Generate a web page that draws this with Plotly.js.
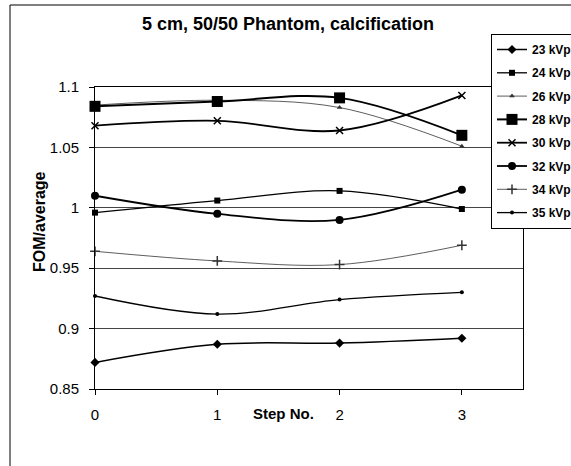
<!DOCTYPE html>
<html>
<head>
<meta charset="utf-8">
<script src="https://cdn.plot.ly/plotly-3.0.1.min.js"></script>
<style>
  html, body { margin: 0; padding: 0; background: #fff; }
  #chart { width: 571px; height: 466px; }
</style>
</head>
<body>
<div id="chart"></div>
<script>
// ---- data ----
const steps = [0, 1, 2, 3];
const seriesNames = ["23 kVp", "24 kVp", "26 kVp", "28 kVp", "30 kVp", "32 kVp", "34 kVp", "35 kVp"];
const kvp23 = [0.872, 0.887, 0.888, 0.892];
const kvp24 = [0.996, 1.006, 1.014, 0.999];
const kvp26 = [1.085, 1.089, 1.083, 1.051];
const kvp28 = [1.084, 1.088, 1.091, 1.060];
const kvp30 = [1.068, 1.072, 1.064, 1.093];
const kvp32 = [1.010, 0.995, 0.990, 1.015];
const kvp34 = [0.964, 0.956, 0.953, 0.969];
const kvp35 = [0.927, 0.912, 0.924, 0.930];
const yTickVals = [0.85, 0.9, 0.95, 1, 1.05, 1.1];
const yTickText = ["0.85", "0.9", "0.95", "1", "1.05", "1.1"];
const xTickVals = [0, 1, 2, 3];
const xTickText = ["0", "1", "2", "3"];

const allValues = [kvp23, kvp24, kvp26, kvp28, kvp30, kvp32, kvp34, kvp35];
const styles = [
  { symbol: "diamond", size: 7, lw: 1.5, color: "#000" },
  { symbol: "square", size: 6, lw: 1.3, color: "#000" },
  { symbol: "triangle-up", size: 5, lw: 0.8, color: "#333" },
  { symbol: "square", size: 11, lw: 2, color: "#000" },
  { symbol: "x-thin-open", size: 7, lw: 1.8, color: "#000" },
  { symbol: "circle", size: 8, lw: 1.8, color: "#000" },
  { symbol: "cross-thin-open", size: 7, lw: 0.8, color: "#333" },
  { symbol: "circle", size: 4, lw: 1.3, color: "#000" }
];

const FONT = "Liberation Sans, Arial, sans-serif";

const traces = allValues.map((vals, i) => ({
  x: steps,
  y: vals,
  name: seriesNames[i],
  legendgroup: "g" + i,
  type: "scatter",
  mode: "lines+markers",
  line: { shape: "spline", smoothing: 1, color: styles[i].color, width: styles[i].lw },
  marker: {
    symbol: styles[i].symbol,
    size: styles[i].size,
    color: styles[i].color,
    line: { color: styles[i].color, width: styles[i].symbol.indexOf("open") >= 0 ? 1.5 : 0 }
  },
  cliponaxis: false
}));

const layout = {
  width: 571,
  height: 466,
  margin: { l: 95, r: 48, t: 87, b: 77, autoexpand: false },
  paper_bgcolor: "#fff",
  plot_bgcolor: "#fff",
  font: { family: FONT, color: "#000", size: 14 },
  title: {
    text: "<b>5 cm, 50/50 Phantom, calcification</b>",
    font: { family: FONT, size: 18, color: "#000" },
    x: 288 / 571, xanchor: "center", xref: "container",
    y: 1 - 24 / 466, yanchor: "middle", yref: "container"
  },
  xaxis: {
    range: [0, 3.5],
    tickvals: xTickVals,
    ticktext: xTickText,
    ticks: "outside",
    ticklen: 5,
    tickcolor: "#000",
    ticklabelstandoff: 7,
    showgrid: false,
    zeroline: false,
    showline: true,
    linecolor: "#000",
    linewidth: 1,
    mirror: true,
    tickfont: { family: FONT, size: 15, color: "#000" }
  },
  yaxis: {
    range: [0.85, 1.1],
    tickvals: yTickVals,
    ticktext: yTickText,
    ticks: "outside",
    ticklen: 5,
    tickcolor: "#000",
    ticklabelstandoff: 7,
    showgrid: true,
    gridcolor: "#444",
    gridwidth: 1,
    zeroline: false,
    showline: true,
    linecolor: "#000",
    linewidth: 1,
    mirror: true,
    tickfont: { family: FONT, size: 15, color: "#000" }
  },
  legend: {
    xref: "container", yref: "container",
    x: 491 / 571, xanchor: "left",
    y: 1 - 34 / 466, yanchor: "top",
    bgcolor: "#fff",
    bordercolor: "#000",
    borderwidth: 1,
    traceorder: "grouped",
    tracegroupgap: 4.3,
    itemwidth: 30,
    font: { family: FONT, size: 12, color: "#000", weight: "bold" }
  },
  annotations: [
    {
      text: "<b>Step No.</b>",
      xref: "paper", yref: "paper",
      x: (283 - 95) / 428, y: (389 - 413) / 302,
      xanchor: "center", yanchor: "middle",
      showarrow: false,
      font: { family: FONT, size: 15, color: "#000" }
    },
    {
      text: "<b>FOM/average</b>",
      xref: "paper", yref: "paper",
      x: (40 - 95) / 428, y: (389 - 222) / 302,
      xanchor: "center", yanchor: "middle",
      textangle: -90,
      showarrow: false,
      font: { family: FONT, size: 16, color: "#000" }
    }
  ],
  shapes: [
    {
      type: "line", xref: "paper", yref: "paper",
      x0: (10 - 95) / 428, x1: (10 - 95) / 428,
      y0: -1, y1: (389 - 5) / 302,
      line: { color: "#000", width: 1 }
    },
    {
      type: "line", xref: "paper", yref: "paper",
      x0: (10 - 95) / 428, x1: 2,
      y0: (389 - 5) / 302, y1: (389 - 5) / 302,
      line: { color: "#000", width: 1 }
    }
  ],
  showlegend: true
};

Plotly.newPlot("chart", traces, layout, { displayModeBar: false, staticPlot: true });
</script>
</body>
</html>
